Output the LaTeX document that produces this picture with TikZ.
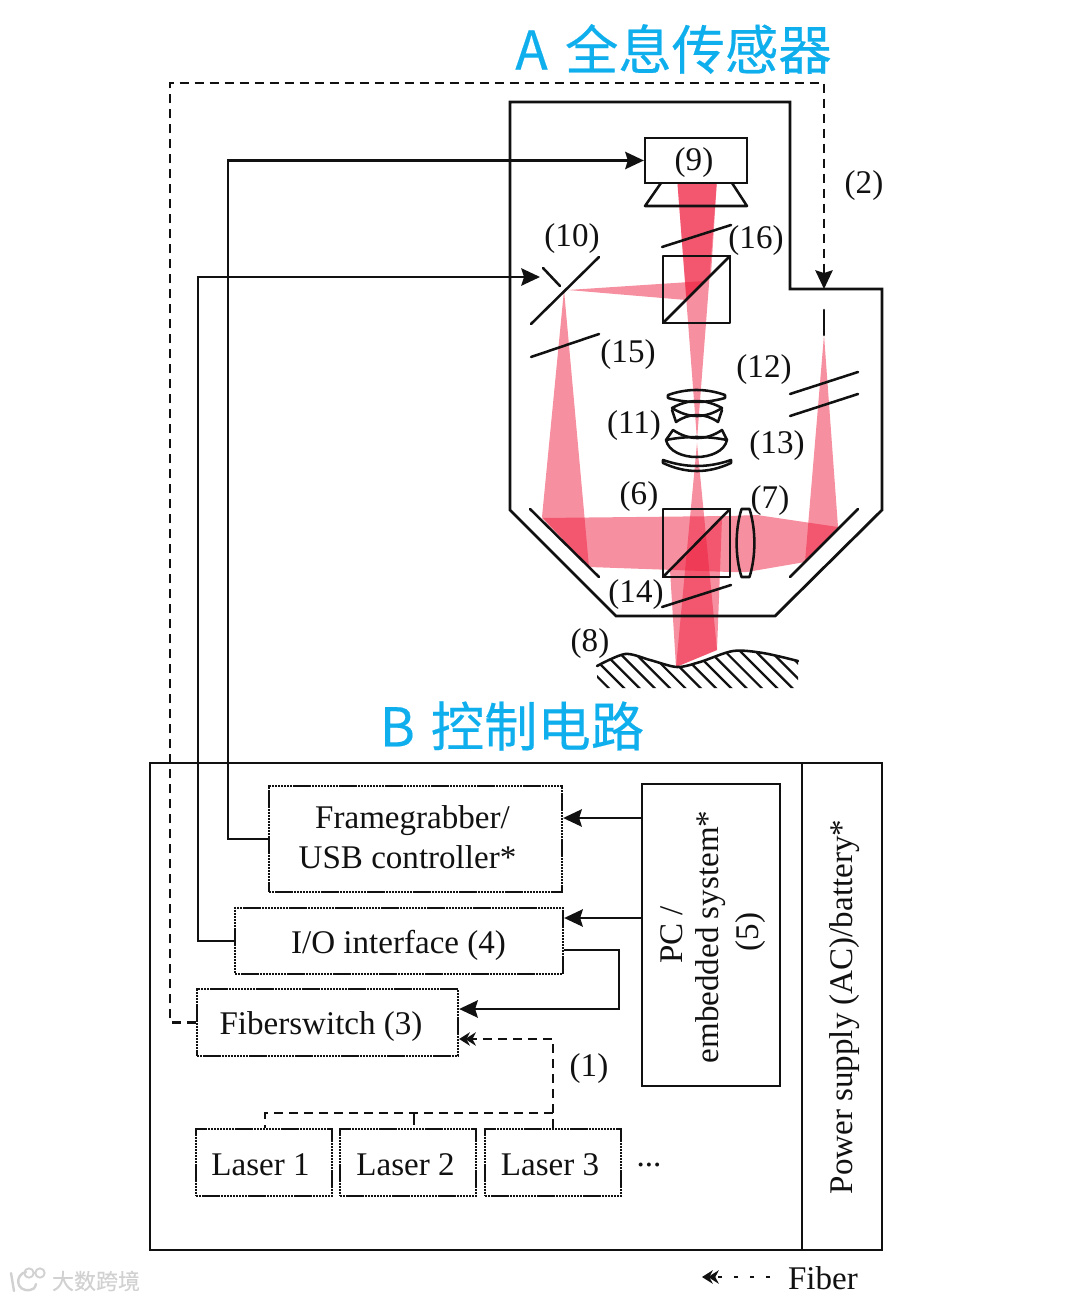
\documentclass[tikz,border=0pt]{standalone}
\usepackage{fontspec}
\setmainfont{Liberation Serif}
\newfontfamily\cjk[FakeBold=0.35]{Noto Sans CJK SC}
\usetikzlibrary{arrows.meta}
\definecolor{beamred}{HTML}{EE2040}
\definecolor{titleblue}{HTML}{0FAEEC}
\definecolor{ink}{HTML}{111111}
\tikzset{
  beam/.style={fill=beamred,fill opacity=0.5,draw=none},
  optic/.style={draw=ink,line width=1.9pt,line join=round,line cap=round},
  housing/.style={draw=ink,line width=2.1pt,line join=miter},
  wire/.style={draw=ink,line width=1.8pt,line join=miter},
  fiberline/.style={draw=ink,line width=1.7pt,dash pattern=on 6.75pt off 4.5pt},
  bighead/.style={-{Stealth[length=14pt,width=13pt,inset=2pt]}},
  dblhead/.style={-{Stealth[length=8pt,width=10pt,inset=2.5pt,sep=-3.5pt]Stealth[length=8pt,width=10pt,inset=2.5pt]}},
  lbl/.style={font=\fontsize{24.8}{30}\selectfont,text=ink,inner sep=0pt,yshift=-2.4pt},
  rlbl/.style={font=\fontsize{24.8}{30}\selectfont,text=ink,inner sep=0pt,rotate=90,yshift=-2.2pt},
  sized/.style n args={2}{minimum width=#1*0.75pt,minimum height=#2*0.75pt,inner sep=0pt},
  solidbox/.style={draw=ink,line width=1.7pt},
  dotbox/.style={draw=ink,line width=1.7pt,dash pattern=on 1.8pt off 0.5pt},
  headline/.style={font=\fontsize{40}{48}\selectfont\cjk,text=titleblue,inner sep=0pt}
}
\begin{document}
\begin{tikzpicture}[x=0.75pt,y=-0.75pt]
\useasboundingbox (0,0) rectangle (1080,1301);

% ---- beams
\path[beam] (677.5,184) -- (716.7,184) -- (697,440) -- cycle;
\path[beam] (677.5,184) -- (716.7,184) -- (711,275) -- (686.5,300) -- cycle;
\path[beam] (568,290) -- (705,281) -- (686,300) -- cycle;
\path[beam] (564,290) -- (542,517) -- (589,567) -- cycle;
\path[beam] (542,518) -- (730,516) -- (757,515) -- (838,527) -- (805,562) -- (747,572) -- (730,572) -- (589,567) -- cycle;
\path[beam] (824,335) -- (805,562) -- (838,527) -- cycle;
\path[beam] (697,443) -- (676,667) -- (717,650) -- cycle;
\path[beam] (670,570) -- (722,518) -- (717,650) -- (676,667) -- cycle;

% ---- housing
\draw[housing] (510,102) -- (790,102) -- (790,289) -- (882,289) -- (882,510) -- (775,616) -- (616,616) -- (510,510) -- cycle;

% ---- optics
\node[solidbox,sized={102}{45}] (cam) at (696,160.5) {};
\draw[optic] (661,183) -- (645,206) -- (747,206) -- (732,183);
\draw[optic] (662,247) -- (731,225);
\draw[optic] (663,256) rectangle (730,323);
\draw[optic] (663,323) -- (730,256);
\draw[optic] (531,324) -- (599,257);
\draw[optic] (543,268) -- (560,286);
\draw[optic] (531,357) -- (599,334);
\draw[optic] (824,310) -- (824,335);
\draw[optic] (790,394) -- (858,372);
\draw[optic] (790,416) -- (858,394);
\draw[optic] (663,509) rectangle (730,577);
\draw[optic] (663,577) -- (730,509);
\draw[optic] (662,607) -- (731,585);
\draw[optic] (530,509) -- (599,577);
\draw[optic] (858,509) -- (790,577);
\draw[optic] (741.5,509) -- (749.5,509) .. controls (756,530) and (756,556) .. (749.5,577) -- (741.5,577) .. controls (735,556) and (735,530) .. (741.5,509);
% objective
\draw[optic] (668,395) .. controls (687,388.3) and (706,388.3) .. (725,395) -- (725,398) .. controls (706,403.3) and (687,403.3) .. (668,398) -- cycle;
\draw[optic] (672,408) .. controls (689,398.7) and (705,398.7) .. (722,408) .. controls (705,418.7) and (689,418.7) .. (672,408) -- cycle;
\draw[optic] (672,410) -- (676,422) .. controls (689,412.7) and (705,412.7) .. (718,422) -- (722,410);
\draw[optic] (673,430) .. controls (689,440.7) and (706,440.7) .. (722,430) -- (727,440);
\draw[optic] (673,430) -- (666,440);
\draw[optic] (666,440) .. controls (686,436) and (707,436) .. (727,440) .. controls (722,462.7) and (671,462.7) .. (666,440) -- cycle;
\draw[optic] (663,460) .. controls (686,468) and (708,468) .. (731,460) -- (731,463) .. controls (708,473.7) and (686,473.7) .. (663,463) -- cycle;

% ---- sample surface
\begin{scope}
  \clip plot[smooth] coordinates {(597,666) (625,654) (650,660) (677,667) (700,662) (733,651) (763,653) (798,661)} -- (798,688) -- (597,688) -- cycle;
  \foreach \hx in {520,535.3,...,800}
    \draw[draw=ink,line width=1.7pt] (\hx,630) -- ({\hx+70},700);
\end{scope}
\draw[optic] plot[smooth] coordinates {(597,666) (625,654) (650,660) (677,667) (700,662) (733,651) (763,653) (798,661)};

% ---- optics labels
\node[lbl] (l9) at (694,159) {(9)};
\node[lbl] (l2) at (864,182) {(2)};
\node[lbl] (l10) at (572,235) {(10)};
\node[lbl] (l16) at (756,237) {(16)};
\node[lbl] (l15) at (628,351) {(15)};
\node[lbl] (l12) at (764,366) {(12)};
\node[lbl] (l11) at (634,422) {(11)};
\node[lbl] (l13) at (777,442) {(13)};
\node[lbl] (l6) at (639,493) {(6)};
\node[lbl] (l7) at (770,497) {(7)};
\node[lbl] (l14) at (636,591) {(14)};
\node[lbl] (l8) at (590,640) {(8)};

% ---- titles
\node[headline] (ta) at (673.5,49) {A\hspace{4pt} 全息传感器};
\node[headline] (tb) at (512,726) {B\hspace{3pt} 控制电路};

% ---- control block
\node[housing,sized={652}{487}] (ctrl) at (476,1006.5) {};
\node[housing,sized={80}{487}] (power) at (842,1006.5) {};
\node[rlbl] (powertext) at (842,1007) {Power supply (AC)/battery*};

\node[dotbox,sized={293}{106}] (fg) at (415.5,839) {};
\node[lbl] (fgt1) at (412.5,817) {Framegrabber/};
\node[lbl] (fgt2) at (407.5,853.5) {USB controller*};
\node[dotbox,sized={328}{66}] (io) at (399,941) {};
\node[lbl] (iot) at (398.5,942) {I/O interface (4)};
\node[dotbox,sized={261}{67}] (fs) at (327.5,1022.5) {};
\node[lbl] (fst) at (321,1023.5) {Fiberswitch (3)};
\node[solidbox,sized={138}{302}] (pc) at (711,935) {};
\node[rlbl] (pc1) at (669,935) {PC /};
\node[rlbl] (pc2) at (708,937) {embedded system*};
\node[rlbl] (pc3) at (748,932) {(5)};
\node[dotbox,sized={136}{67}] (la1) at (264,1162.5) {};
\node[dotbox,sized={136}{67}] (la2) at (408,1162.5) {};
\node[dotbox,sized={136}{67}] (la3) at (553,1162.5) {};
\node[lbl] (la1t) at (260.5,1162) {Laser 1};
\node[lbl] (la2t) at (405.5,1162) {Laser 2};
\node[lbl] (la3t) at (550,1162) {Laser 3};
\node[lbl] (dots) at (649,1162) {...};
\node[lbl] (l1) at (589,1065) {(1)};

% ---- helper coordinates
\coordinate (y818) at (0,818);
\coordinate (y918) at (0,918);
\coordinate (y950) at (0,950);
\coordinate (y1009) at (0,1009);
\coordinate (y1039) at (0,1039);
\coordinate (mirrortick) at (540,277);
\coordinate (entry) at (824,289);
\coordinate (busL) at (265,1113);
\coordinate (busM) at (414,1113);
\coordinate (busR) at (553,1113);
\coordinate (tickM) at (414,1125);

% ---- connectors
\draw[wire,bighead] (fg.west) -- ++(-40,0) |- (cam.west);
\draw[wire,bighead] (io.west) -- ++(-36,0) |- (mirrortick);
\draw[wire,bighead] (pc.west |- y818) -- (fg.east |- y818);
\draw[wire,bighead] (pc.west |- y918) -- (io.east |- y918);
\draw[wire,bighead] (io.east |- y950) -- (619,950) -- (619,1009) -- (fs.east |- y1009);
\draw[fiberline,bighead] (fs.west) -- (170,1022.5) -- (170,83) -- (824,83) -- (entry);
\draw[fiberline,dblhead] (la3.north) -- (busR) -- (553,1039) -- (fs.east |- y1039);
\draw[fiberline] (busR) -- (busL) -- (la1.north -| busL);
\draw[wire] (busM) -- (tickM);

% ---- legend
\coordinate (legR) at (770,1277);
\coordinate (legL) at (702,1277);
\draw[draw=ink,line width=1.6pt,dash pattern=on 3pt off 9pt,dblhead] (legR) -- (legL);
\node[lbl] (fiber) at (823,1275) {Fiber};

% ---- watermark
\node[font=\fontsize{16.5}{20}\selectfont\cjk,text=black!18,inner sep=0pt] (wm) at (96,1281) {大数跨境};
\draw[black!18,line width=1.8pt,line cap=round] (11,1273) -- (14,1291);
\draw[black!18,line width=1.8pt,line cap=round] (26,1272) .. controls (15,1274) and (15,1292) .. (30,1290) .. controls (33,1290) and (35,1288) .. (36,1284);
\draw[black!18,line width=1.4pt] (29,1273) circle[radius=3.5pt] (40,1273) circle[radius=3.5pt];
\end{tikzpicture}
\end{document}
